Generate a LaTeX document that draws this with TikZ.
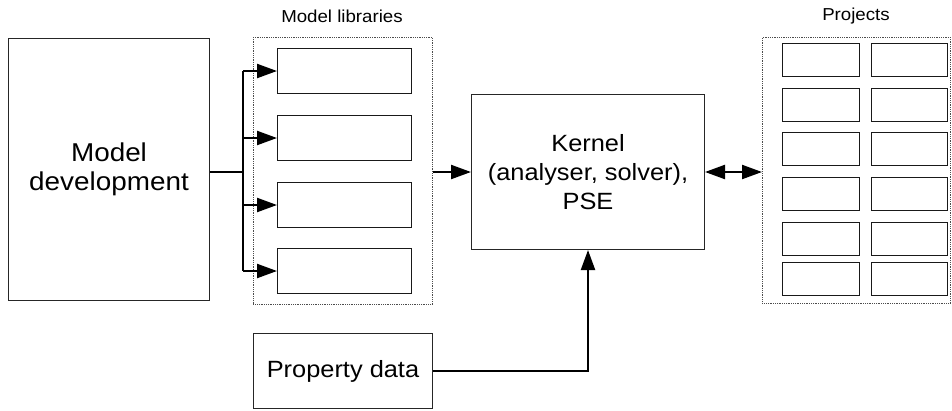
\documentclass[tikz,border=0pt]{standalone}
\usepackage{fontspec}
\setmainfont[FakeStretch=1.08]{Liberation Sans}
\usetikzlibrary{arrows.meta}
\tikzset{
  box/.style={draw=black!85, line width=1pt, anchor=north west, inner sep=0pt, align=center, font=\fontsize{23.5}{29}\selectfont},
  frame/.style={draw=black!70, line width=0.8pt, densely dotted, anchor=north west, inner sep=0pt},
  cell/.style={draw=black!90, line width=1pt, anchor=north west, inner sep=0pt},
  caption/.style={font=\fontsize{17.3}{20}\selectfont},
  link/.style={line width=2.2pt, draw=black},
  arr/.style={link, -{Triangle[length=20pt,width=14pt]}},
  darr/.style={link, {Triangle[length=20pt,width=14pt]}-{Triangle[length=20pt,width=14pt]}}
}
\begin{document}
\begin{tikzpicture}[x=1pt,y=-1pt]
\useasboundingbox (0,0) rectangle (952,410);

% model development
\node[box, minimum width=201, minimum height=262, font=\fontsize{25.8}{28.5}\selectfont] (md) at (8,38) {Model\\development};

% model libraries
\node[caption] (libcap) at (342,16) {Model libraries};
\node[frame, minimum width=179, minimum height=267] (lib) at (253,37) {};
\foreach \i/\y in {1/48,2/115,3/182,4/248}
  \node[cell, minimum width=134, minimum height=45] (lb\i) at (277,\y) {};

% kernel
\node[box, minimum width=233, minimum height=155] (ker) at (471,94) {Kernel\\(analyser, solver),\\PSE};

% projects
\node[caption] (prjcap) at (856,16) {Projects};
\node[frame, minimum width=188, minimum height=266] (prj) at (762,37) {};
\foreach \r/\y in {1/43,2/88,3/132,4/177,5/222,6/262}{
  \node[cell, minimum width=77, minimum height=33] (pa\r) at (782,\y) {};
  \node[cell, minimum width=76, minimum height=33] (pb\r) at (871,\y) {};
}

% property data
\node[box, minimum width=179, minimum height=75] (pd) at (253,333) {Property data};

% connectors
\coordinate (bus) at (243,172);
\draw[link] (md.east |- bus) -- (bus);
\draw[link] (bus |- lb1.west) -- (bus |- lb4.west);
\foreach \i in {1,...,4}
  \draw[arr] (bus |- lb\i.west) -- (lb\i.west);
\draw[arr] (lib.east |- bus) -- (ker.west |- bus);
\draw[darr] (ker.east |- bus) -- (prj.west |- bus);
\draw[arr] (pd.east) -| (ker.south);
\end{tikzpicture}
\end{document}
